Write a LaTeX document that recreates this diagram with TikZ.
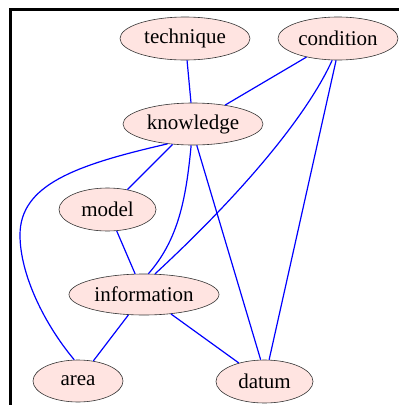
\documentclass[tikz,border=0pt]{standalone}
\usepackage{fontspec}
\setmainfont{Liberation Serif}
\usetikzlibrary{shapes.geometric}
\definecolor{mistyrose}{RGB}{255,228,225}
\begin{document}
\begin{tikzpicture}[x=1pt,y=-1pt,
  vtx/.style={ellipse,draw=black!80,line width=0.6pt,fill=mistyrose,inner sep=0pt,
    font=\fontsize{21}{25}\selectfont},
  lnk/.style={draw=blue,line width=1.2pt}]
\useasboundingbox (0,0) rectangle (399,405);
\draw[line width=3pt] (10.5,405) -- (10.5,9) -- (399,9);
\node[vtx,minimum width=130pt,minimum height=43pt] (tech) at (185,38.5) {technique};
\node[vtx,minimum width=120pt,minimum height=43pt] (cond) at (338,38.5) {condition};
\node[vtx,minimum width=140pt,minimum height=42pt] (know) at (193,124) {knowledge};
\node[vtx,minimum width=97pt,minimum height=43pt] (model) at (107.5,209.5) {model};
\node[vtx,minimum width=150pt,minimum height=41pt] (info) at (144,294.5) {information};
\node[vtx,minimum width=90pt,minimum height=42pt] (area) at (78,381) {area};
\node[vtx,minimum width=97pt,minimum height=43pt] (datum) at (264.5,381.5) {datum};
\draw[lnk] (tech) -- (know);
\draw[lnk] (cond) -- (know);
\draw[lnk] (cond.255) .. controls (305,120) and (235,200) .. (info.62);
\draw[lnk] (cond.265) -- (datum.78);
\draw[lnk] (know) -- (model);
\draw[lnk] (know.218) .. controls (75,165) and (20,185) .. (20,235) .. controls (20,275) and (45,325) .. (area.100);
\draw[lnk] (know.265) .. controls (186,200) and (178,240) .. (info.78);
\draw[lnk] (know.280) -- (datum.100);
\draw[lnk] (model) -- (info);
\draw[lnk] (info) -- (area);
\draw[lnk] (info) -- (datum);
\end{tikzpicture}
\end{document}
